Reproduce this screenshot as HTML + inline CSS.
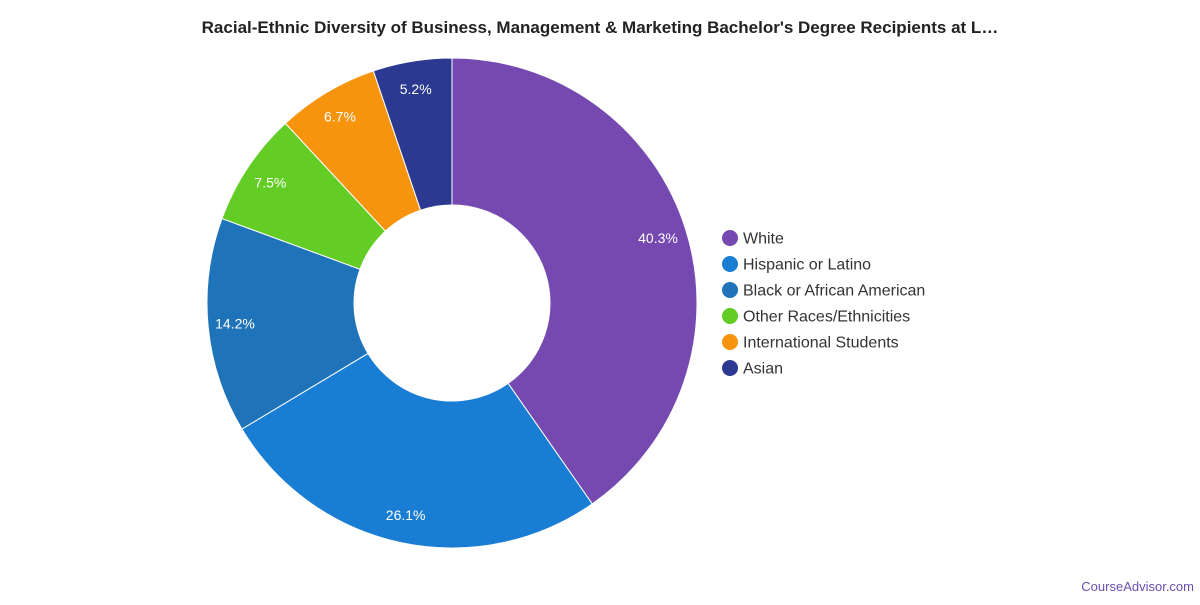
<!DOCTYPE html>
<html><head><meta charset="utf-8"><style>
body{margin:0;background:#fff;width:1200px;height:600px;overflow:hidden;font-family:"Liberation Sans",sans-serif}
</style></head><body>
<svg id="s" width="1200" height="600" xmlns="http://www.w3.org/2000/svg">
<text x="600" y="33" text-anchor="middle" font-size="17" font-weight="bold" fill="#222" font-family="Liberation Sans, sans-serif">Racial-Ethnic Diversity of Business, Management &amp; Marketing Bachelor's Degree Recipients at L…</text>
<g id="pie"></g>
<g font-size="16" fill="#333" font-family="Liberation Sans, sans-serif">
<circle cx="730" cy="238" r="8" fill="#7549b0"/><text x="743" y="243.5">White</text>
<circle cx="730" cy="264" r="8" fill="#1a7dd4"/><text x="743" y="269.5">Hispanic or Latino</text>
<circle cx="730" cy="290" r="8" fill="#1f73b9"/><text x="743" y="295.5">Black or African American</text>
<circle cx="730" cy="316" r="8" fill="#63cc25"/><text x="743" y="321.5">Other Races/Ethnicities</text>
<circle cx="730" cy="342" r="8" fill="#f7940e"/><text x="743" y="347.5">International Students</text>
<circle cx="730" cy="368" r="8" fill="#2b3990"/><text x="743" y="373.5">Asian</text>
</g>
<text x="1194" y="591" text-anchor="end" font-size="13" fill="#6a4fb0" font-family="Liberation Sans, sans-serif">CourseAdvisor.com</text>
</svg>
<script>
var d=[[40.3,"#7549b0"],[26.1,"#1a7dd4"],[14.2,"#1f73b9"],[7.5,"#63cc25"],[6.7,"#f7940e"],[5.2,"#2b3990"]];
var cx=452,cy=303,R=245,r=98,a=0,h="";
function p(rr,t){return [cx+rr*Math.sin(t),cy-rr*Math.cos(t)];}
d.forEach(function(x){var a0=a*2*Math.PI/100;a+=x[0];var a1=a*2*Math.PI/100;var l=(a1-a0)>Math.PI?1:0;
var A=p(R,a0),B=p(R,a1),C=p(r,a1),D=p(r,a0);
h+='<path d="M'+A+'A'+R+','+R+' 0 '+l+' 1 '+B+'L'+C+'A'+r+','+r+' 0 '+l+' 0 '+D+'Z" fill="'+x[1]+'" stroke="#fff" stroke-width="1"/>';
var m=p(217,(a0+a1)/2);h+='<text x="'+(m[0]-1)+'" y="'+(m[1]+5)+'" text-anchor="middle" font-size="14" fill="#fff" font-family="Liberation Sans, sans-serif">'+x[0].toFixed(1)+'%</text>';});
document.getElementById("pie").innerHTML=h;
</script>
</body></html>
